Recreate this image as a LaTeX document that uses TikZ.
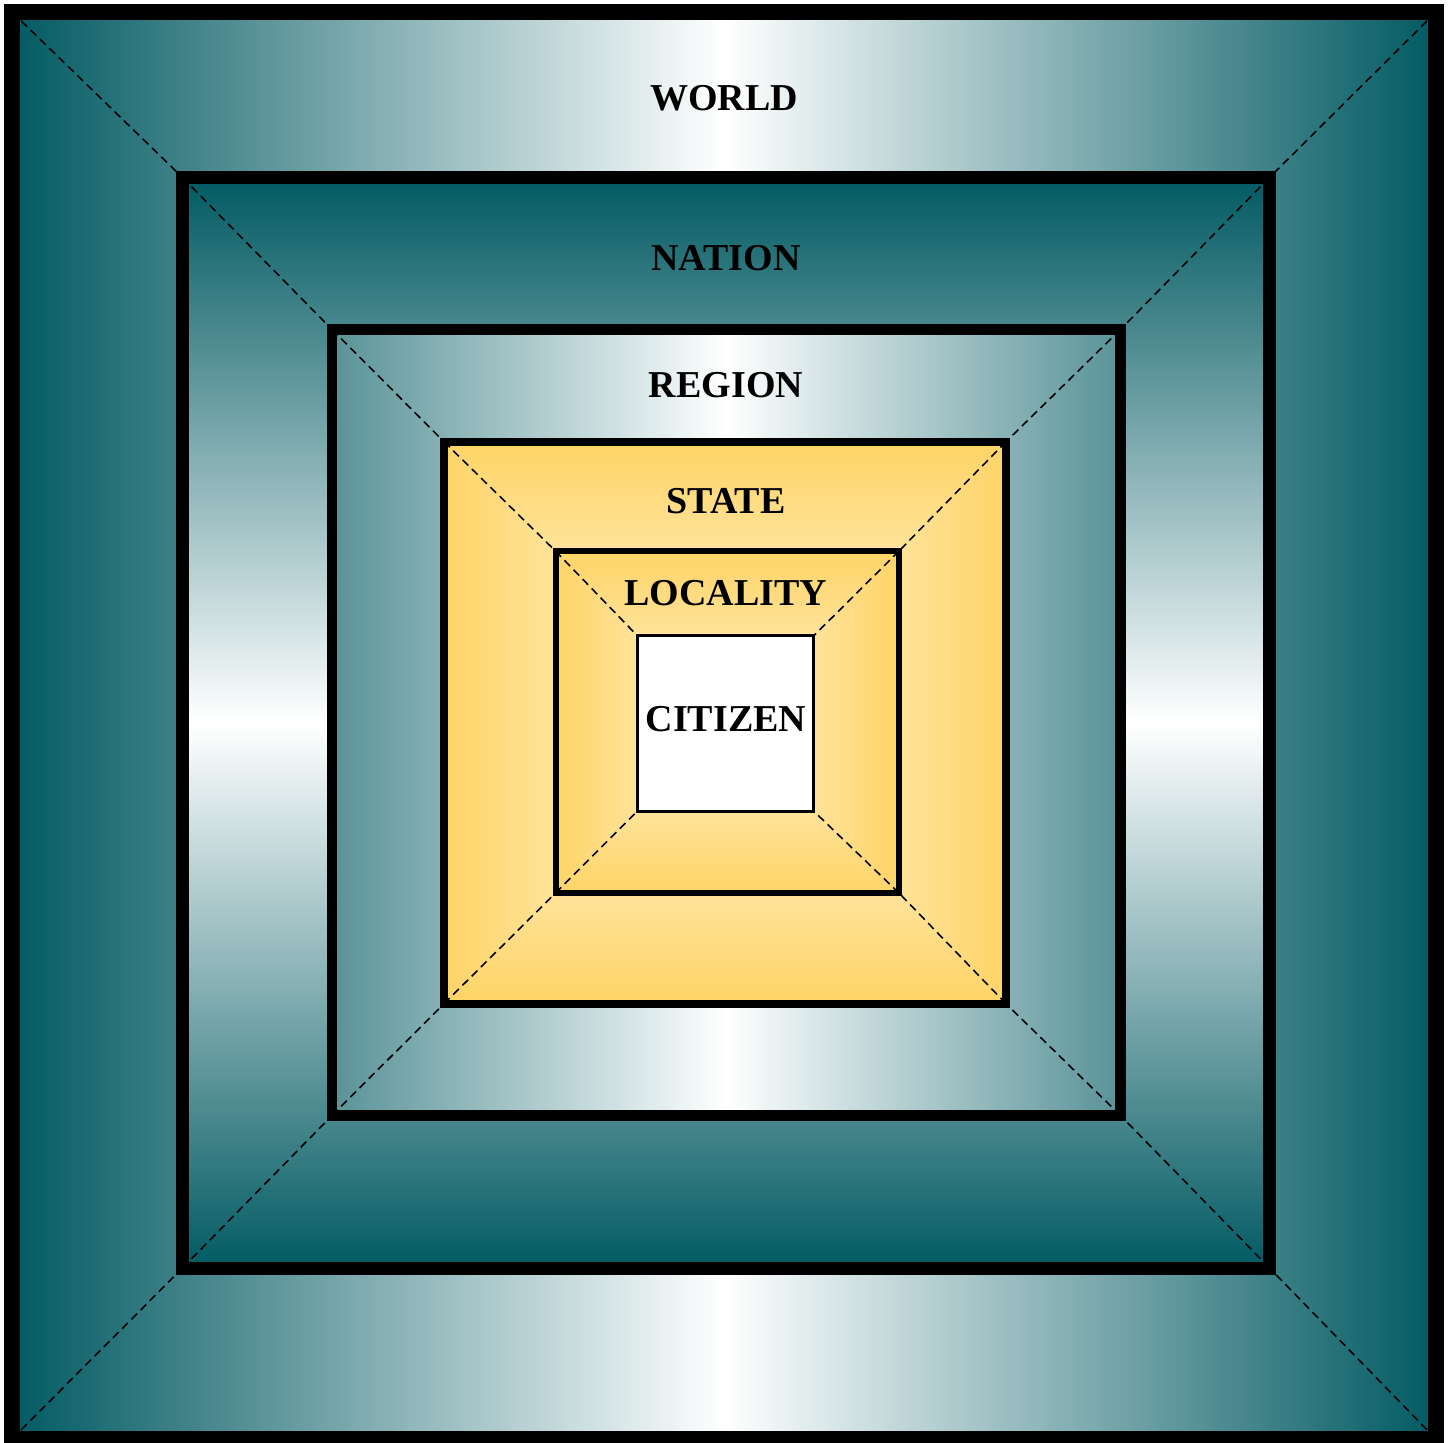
\documentclass[tikz,border=0pt]{standalone}
\usepackage{fontspec}
\setmainfont{Liberation Serif}
\definecolor{tdark}{RGB}{5,92,100}
\definecolor{tmid}{RGB}{90,148,153}
\definecolor{yout}{RGB}{255,212,102}
\definecolor{yin}{RGB}{255,227,154}
\begin{document}
\begin{tikzpicture}[x=0.5pt,y=-0.5pt,
  lbl/.style={inner sep=0pt,font=\fontsize{19pt}{22pt}\selectfont\bfseries},
  diag/.style={draw=black,line width=0.8pt,dash pattern=on 4pt off 2.5pt},
  frame/.style={draw=black,line join=miter}]
\useasboundingbox (0,0) rectangle (1452,1442);
\fill[white] (0,0) rectangle (1452,1442);
% corner coordinates of each square (centre line of its border)
\foreach \n/\a/\b/\c/\d in {w/12/12/1436/1439, n/182.5/177.5/1269.5/1268, r/332/329.5/1120.5/1115.5, s/444/441.7/1006/1003.7, l/555.5/551/899/893, c/637.3/635.7/813.8/811.2}{
  \coordinate (\n1) at (\a,\b);
  \coordinate (\n2) at (\c,\b);
  \coordinate (\n3) at (\c,\d);
  \coordinate (\n4) at (\a,\d);
}
% world band
\shade[left color=tdark,right color=tdark,middle color=white] (20,20) rectangle (1428,1431);
% nation band
\shade[top color=tdark,bottom color=tdark,middle color=white] (189,184) rectangle (1263,1262);
% region band
\shade[left color=tmid,right color=tmid,middle color=white] (337,335) rectangle (1115,1110);
% state band
\shade[top color=yout,bottom color=yin] (s1) -- (s2) -- (l2) -- (l1) -- cycle;
\shade[right color=yout,left color=yin] (s2) -- (s3) -- (l3) -- (l2) -- cycle;
\shade[bottom color=yout,top color=yin] (s4) -- (s3) -- (l3) -- (l4) -- cycle;
\shade[left color=yout,right color=yin] (s1) -- (s4) -- (l4) -- (l1) -- cycle;
% locality band
\shade[top color=yout,bottom color=yin] (l1) -- (l2) -- (c2) -- (c1) -- cycle;
\shade[right color=yout,left color=yin] (l2) -- (l3) -- (c3) -- (c2) -- cycle;
\shade[bottom color=yout,top color=yin] (l4) -- (l3) -- (c3) -- (c4) -- cycle;
\shade[left color=yout,right color=yin] (l1) -- (l4) -- (c4) -- (c1) -- cycle;
% citizen
\fill[white] (c1) rectangle (c3);
% dashed diagonals
\foreach \a/\b in {w/n,n/r,r/s,s/l,l/c}{
  \foreach \k in {1,2,3,4}{
    \draw[diag] (\a\k) -- (\b\k);
  }
}
% borders
\draw[frame,line width=8pt] (w1) rectangle (w3);
\draw[frame,line width=6.5pt] (n1) rectangle (n3);
\draw[frame,line width=5.3pt] (r1) rectangle (r3);
\draw[frame,line width=4pt] (s1) rectangle (s3);
\draw[frame,line width=3pt] (l1) rectangle (l3);
\draw[frame,line width=1.35pt] (c1) rectangle (c3);
% labels
\node[lbl] (world) at (724,98) {WORLD};
\node[lbl] (nation) at (726,258) {NATION};
\node[lbl] (region) at (726,385) {REGION};
\node[lbl] (state) at (726,501) {STATE};
\node[lbl] (locality) at (726,593) {LOCALITY};
\node[lbl] (citizen) at (726,719) {CITIZEN};
\end{tikzpicture}
\end{document}
